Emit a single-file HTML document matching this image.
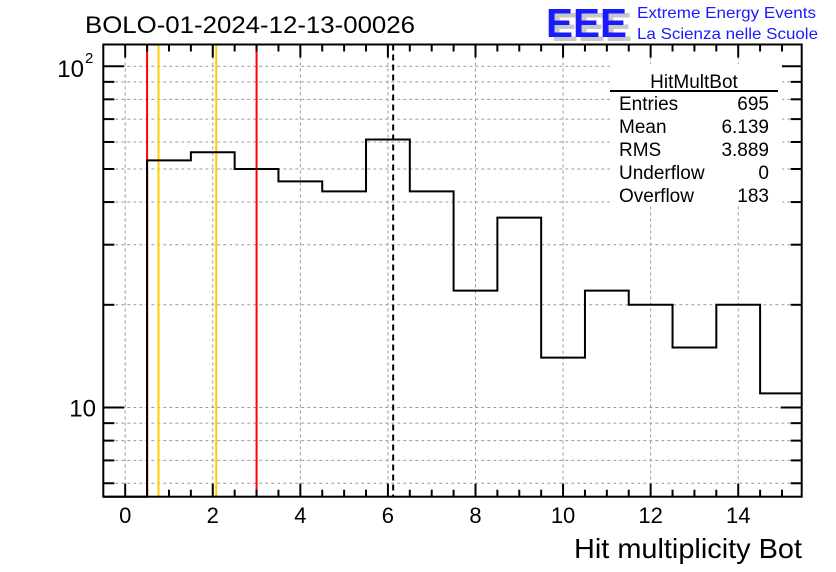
<!DOCTYPE html>
<html><head><meta charset="utf-8"><style>
body{margin:0;background:#fff}
svg{display:block;font-family:"Liberation Sans",sans-serif}
</style></head><body>
<svg id="c" width="836" height="572" xmlns="http://www.w3.org/2000/svg">
<g id="grid"></g>
<g id="lines"></g>
<g id="marks"></g>
<g id="axes"></g>
<text x="85" y="33" font-size="24" textLength="330" lengthAdjust="spacingAndGlyphs">BOLO-01-2024-12-13-00026</text>
<g>
<text x="551" y="41" font-size="41" font-weight="bold" fill="#c8c8c8" textLength="81" lengthAdjust="spacingAndGlyphs">EEE</text>
<text x="546" y="37" font-size="41" font-weight="bold" fill="#1a1aff" textLength="81" lengthAdjust="spacingAndGlyphs">EEE</text>
<text x="637" y="18" font-size="16" fill="#1a1aff" textLength="179" lengthAdjust="spacingAndGlyphs">Extreme Energy Events</text>
<text x="637" y="39" font-size="16" fill="#1a1aff" textLength="181" lengthAdjust="spacingAndGlyphs">La Scienza nelle Scuole</text>
</g>
<text x="802" y="558" font-size="28" text-anchor="end" textLength="228" lengthAdjust="spacingAndGlyphs">Hit multiplicity Bot</text>
<g font-size="19">
<rect x="610" y="64" width="172" height="142" fill="#fff"/>
<text x="694" y="88" text-anchor="middle">HitMultBot</text>
<line x1="610" y1="91" x2="778" y2="91" stroke="#000" stroke-width="2"/>
<text x="619" y="110">Entries</text><text x="769" y="110" text-anchor="end">695</text>
<text x="619" y="133">Mean</text><text x="769" y="133" text-anchor="end">6.139</text>
<text x="619" y="156">RMS</text><text x="769" y="156" text-anchor="end">3.889</text>
<text x="619" y="179">Underflow</text><text x="769" y="179" text-anchor="end">0</text>
<text x="619" y="202">Overflow</text><text x="769" y="202" text-anchor="end">183</text>
</g>
</svg>
<script>
const binCenters=[0,1,2,3,4,5,6,7,8,9,10,11,12,13,14,15];
const counts=[0,53,56,50,46,43,61,43,22,36,14,22,20,15,20,11];
const xTicks=[0,2,4,6,8,10,12,14];
const yMajor=[10,100];
const yMinor=[6,7,8,9,20,30,40,50,60,70,80,90];
const vLines=[{x:0.5,c:"#ff0000"},{x:0.76,c:"#ffcc00"},{x:2.08,c:"#ffcc00"},{x:3.0,c:"#ff0000"}];
const meanValue=6.12;
const L=103.3,R=801.7,T=44.5,B=496.7;
const xmin=-0.5,xmax=15.45,ylmin=Math.log10(5.48),ylmax=Math.log10(115.8);
const X=v=>L+(v-xmin)/(xmax-xmin)*(R-L);
const Y=v=>B-(Math.log10(v)-ylmin)/(ylmax-ylmin)*(B-T);
const NS="http://www.w3.org/2000/svg";
function mk(p,tag,a){const e=document.createElementNS(NS,tag);for(const k in a)e.setAttribute(k,a[k]);p.appendChild(e);return e;}
const grid=document.getElementById('grid'),marks=document.getElementById('marks'),axes=document.getElementById('axes'),lines=document.getElementById('lines');
xTicks.forEach(t=>{const e=mk(grid,'line',{x1:X(t),x2:X(t),y1:T,y2:B,stroke:'#999','stroke-dasharray':'3,3','stroke-width':1});

});
yMajor.concat(yMinor).forEach(t=>{const e=mk(grid,'line',{x1:L,x2:R,y1:Y(t),y2:Y(t),stroke:'#999','stroke-dasharray':'3,3','stroke-width':1});

});
vLines.forEach(v=>{const e=mk(lines,'line',{x1:X(v.x),x2:X(v.x),y1:T,y2:B,stroke:v.c,'stroke-width':2});

});
const m=mk(lines,'line',{x1:X(meanValue),x2:X(meanValue),y1:T,y2:B,stroke:'#000','stroke-width':2,'stroke-dasharray':'6,4'});


let d='';
binCenters.forEach((c,i)=>{const x0=Math.max(X(c-0.5),L),x1=Math.min(X(c+0.5),R);const v=counts[i];const y=v>0?Y(v):B;
if(i===0)d+=`M${x0},${y}`;else d+=`L${x0},${y}`;d+=`L${x1},${y}`;});
const h=mk(marks,'path',{d:d,fill:'none',stroke:'#000','stroke-width':2});


const f=mk(axes,'rect',{x:L,y:T,width:R-L,height:B-T,fill:'none',stroke:'#000','stroke-width':2});


for(let v=0;v<=15;v+=0.5){const maj=(v%2===0);const len=maj?13:7;
mk(axes,'line',{x1:X(v),x2:X(v),y1:B,y2:B-len,stroke:'#000','stroke-width':2});
mk(axes,'line',{x1:X(v),x2:X(v),y1:T,y2:T+len,stroke:'#000','stroke-width':2});}
xTicks.forEach(t=>{const e=mk(axes,'text',{x:X(t),y:523,'font-size':22,'text-anchor':'middle'});e.textContent=t;

});
yMajor.forEach(t=>{mk(axes,'line',{x1:L,x2:L+21,y1:Y(t),y2:Y(t),stroke:'#000','stroke-width':2});mk(axes,'line',{x1:R,x2:R-21,y1:Y(t),y2:Y(t),stroke:'#000','stroke-width':2});});
yMinor.forEach(t=>{mk(axes,'line',{x1:L,x2:L+11,y1:Y(t),y2:Y(t),stroke:'#000','stroke-width':2});mk(axes,'line',{x1:R,x2:R-11,y1:Y(t),y2:Y(t),stroke:'#000','stroke-width':2});});
const l1=mk(axes,'text',{x:96,y:Y(10)+9,'font-size':24,'text-anchor':'end'});l1.textContent='10';


const l2=mk(axes,'text',{x:84,y:Y(100)+11,'font-size':24,'text-anchor':'end'});l2.textContent='10';


const l3=mk(axes,'text',{x:85,y:Y(100)-3,'font-size':15});l3.textContent='2';


</script>
</body></html>
